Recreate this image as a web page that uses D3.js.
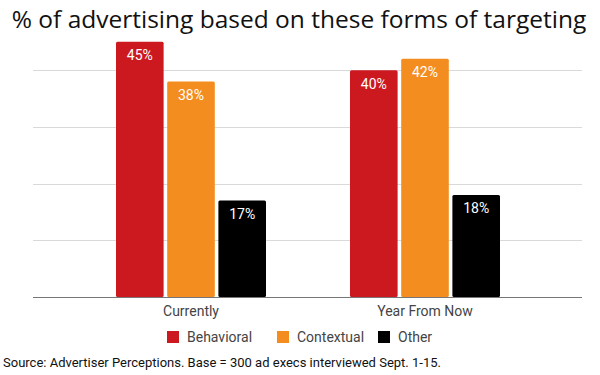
<!DOCTYPE html>
<html><head><meta charset="utf-8">
<script src="https://cdn.jsdelivr.net/npm/d3@7"></script>
<style>html,body{margin:0;padding:0;background:#fff;}svg{display:block;}</style>
</head><body>
<svg id="c" width="600" height="375"></svg>
<script>
const categories = ["Currently", "Year From Now"];
const seriesNames = ["Behavioral", "Contextual", "Other"];
const behavioral = [45, 40];
const contextual = [38, 42];
const other = [17, 18];
const seriesColors = ["#cc181f", "#f48d1f", "#000000"];
const yTicks = [0, 10, 20, 30, 40];

const seriesValues = [behavioral, contextual, other];
const svg = d3.select("#c");

const y = d3.scaleLinear().domain([0, 50]).range([297, 13.5]);
const x0 = d3.scaleBand().domain(categories).range([74, 542]);
const x1 = d3.scaleBand().domain(seriesNames).range([42, 192]).paddingInner(0.07);

// title
svg.append("text").attr("x", 299).attr("y", 28).attr("text-anchor", "middle")
  .attr("font-family", "Open Sans").attr("font-weight", 400).attr("font-size", 24.5).attr("fill", "#111")
  .text("% of advertising based on these forms of targeting");

// gridlines
svg.append("g").selectAll("line").data(yTicks.filter(d => d > 0)).join("line")
  .attr("x1", 33).attr("x2", 582).attr("y1", d => Math.round(y(d)) + 0.5).attr("y2", d => Math.round(y(d)) + 0.5)
  .attr("stroke", "#d9d9d9").attr("stroke-width", 1);

// bars
const groups = svg.append("g").selectAll("g").data(categories).join("g")
  .attr("transform", c => `translate(${x0(c)},0)`);
groups.each(function(c, ci) {
  const g = d3.select(this);
  seriesNames.forEach((s, si) => {
    const v = seriesValues[si][ci];
    g.append("rect").attr("x", x1(s)).attr("y", y(v)).attr("width", x1.bandwidth())
      .attr("height", y(0) - y(v)).attr("rx", 1.5).attr("fill", seriesColors[si]);
    g.append("text").attr("x", x1(s) + x1.bandwidth() / 2).attr("y", y(v) + 18.5)
      .attr("text-anchor", "middle").attr("font-family", "Roboto").attr("font-weight", 400)
      .attr("font-size", 14).attr("fill", "#fff").text(v + "%");
  });
});

// baseline axis
const xAxis = d3.axisBottom(x0).tickSize(0).tickPadding(9);
const ax = svg.append("g").attr("transform", `translate(0,${y(0)})`).call(xAxis);
ax.select(".domain").remove();
ax.selectAll("text").attr("font-family", "Roboto").attr("font-size", 14).attr("fill", "#444");
svg.append("line").attr("x1", 33).attr("x2", 582).attr("y1", y(0) + 0.5).attr("y2", y(0) + 0.5)
  .attr("stroke", "#777").attr("stroke-width", 1);

// legend
const legX = [167, 277, 378];
const leg = svg.append("g").selectAll("g").data(seriesNames).join("g")
  .attr("transform", (d, i) => `translate(${legX[i]},331)`);
leg.append("rect").attr("width", 12).attr("height", 12).attr("fill", (d, i) => seriesColors[i]);
leg.append("text").attr("x", 20).attr("y", 11).attr("font-family", "Roboto").attr("font-size", 14)
  .attr("fill", "#444").text(d => d);

// source
const src = svg.append("text").attr("x", 3).attr("y", 367).attr("font-family", "Roboto")
  .attr("font-size", 13).attr("fill", "#111");
src.append("tspan").text("Source:");
src.append("tspan").text(" Advertiser Perceptions. Base = 300 ad execs interviewed Sept. 1-15.");
</script>
</body></html>
